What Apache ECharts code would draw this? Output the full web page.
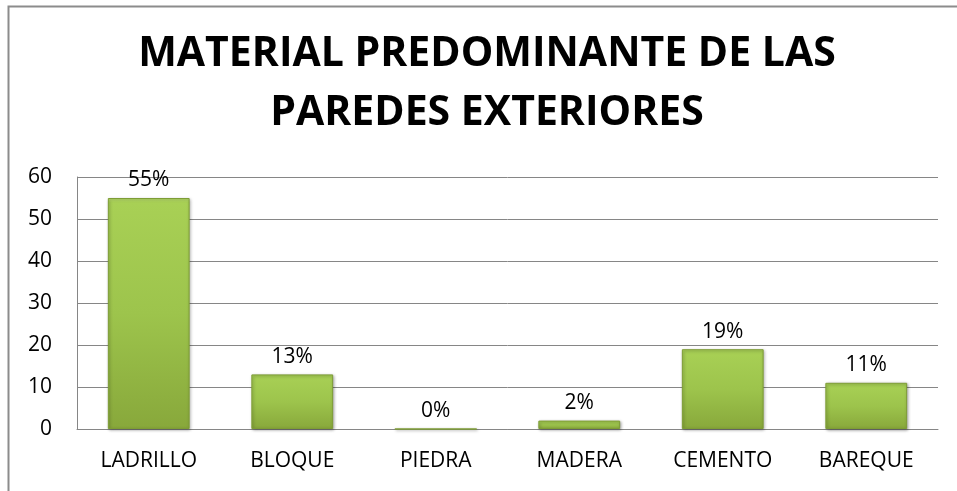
<!DOCTYPE html>
<html><head><meta charset="utf-8">
<script src="https://cdn.jsdelivr.net/npm/echarts@6/dist/echarts.min.js"></script>
<style>html,body{margin:0;padding:0;background:#fff}#c{width:957px;height:491px}</style>
</head><body><div id="c"></div>
<script>
const categories = ['LADRILLO','BLOQUE','PIEDRA','MADERA','CEMENTO','BAREQUE'];
const values = [55, 13, 0, 2, 19, 11];
const pctLabels = ['55%','13%','0%','2%','19%','11%'];
const yTicks = [0, 10, 20, 30, 40, 50, 60];
const titleText = 'MATERIAL PREDOMINANTE DE LAS\nPAREDES EXTERIORES';
const FONT = '"Open Sans", "Liberation Sans", sans-serif';

const chart = echarts.init(document.getElementById('c'), null, {renderer:'canvas'});
chart.setOption({
  animation:false,
  backgroundColor:'#fff',
  graphic:[
    {type:'polyline', shape:{points:[[8.5,491],[8.5,6.5],[957,6.5]]}, style:{stroke:'#8c8c8c', lineWidth:2, fill:null}},
    {type:'text', x:487, y:25, style:{
      text:titleText, align:'center', verticalAlign:'top',
      font:'bold 41px "Open Sans", "Liberation Sans", sans-serif', lineHeight:59, fill:'#000'
    }}
  ],
  grid:{left:77, right:19, top:177, bottom:62, containLabel:false},
  xAxis:{
    type:'category', data:categories,
    axisLine:{show:true, lineStyle:{color:'#868686', width:1}},
    axisTick:{show:false},
    axisLabel:{fontFamily:FONT, fontSize:21, color:'#000', margin:22}
  },
  yAxis:{
    type:'value', min:yTicks[0], max:yTicks[yTicks.length-1], interval:10,
    axisLine:{show:true, lineStyle:{color:'#868686', width:1}},
    axisTick:{show:false},
    axisLabel:{fontFamily:FONT, fontSize:21, color:'#000', margin:25},
    splitLine:{show:true, lineStyle:{color:'#868686', width:1}}
  },
  series:[{
    type:'bar', data:values, barWidth:'57%',
    itemStyle:{
      color:new echarts.graphic.LinearGradient(0,0,0,1,[
        {offset:0, color:'#bde26f'},
        {offset:0.02, color:'#a8d055'},
        {offset:0.5, color:'#9dc44c'},
        {offset:1, color:'#88a83b'}
      ]),
      borderColor:'#7e9d35', borderWidth:1,
      shadowColor:'rgba(0,0,0,0.35)', shadowBlur:3, shadowOffsetX:1, shadowOffsetY:1
    },
    label:{
      show:true, position:'top', distance:7,
      fontFamily:FONT, fontSize:21, color:'#000',
      formatter:p=>pctLabels[p.dataIndex]
    }
  }]
});
</script></body></html>
